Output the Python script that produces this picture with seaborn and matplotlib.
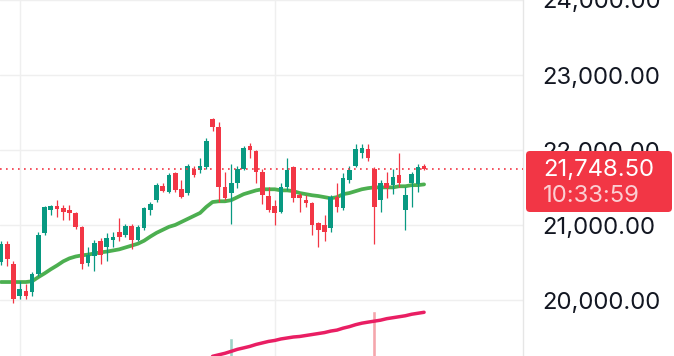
import matplotlib
matplotlib.use("Agg")
import matplotlib.pyplot as plt
from matplotlib.patches import FancyBboxPatch
from matplotlib.ticker import FuncFormatter
from matplotlib.transforms import IdentityTransform
import numpy as np
import pandas as pd
import seaborn as sns

# candles, oldest first
opens = [20505, 20745, 20480, 20060, 20125, 20110, 20350, 20900, 21205, 21255,
         21230, 21205, 21165, 20980, 20495, 20585, 20785, 20715, 20810, 20915,
         20875, 20995, 20810, 20965, 21205, 21335, 21520, 21440, 21690, 21480,
         21430, 21755, 21730, 21770, 22415, 22310, 21505, 21430, 21570, 21755,
         22060, 21995, 21705, 21390, 21255, 21180, 21505, 21770, 21400, 21335,
         21295, 21035, 21005, 20965, 21375, 21230, 21600, 21795, 21965, 22020,
         21755, 21335, 21560, 21535, 21665, 21205, 21570, 21545, 21795]
highs = [20785, 20785, 20520, 20255, 20215, 20375, 20915, 21255, 21270, 21335,
         21270, 21270, 21180, 20995, 20715, 20810, 20835, 20900, 20915, 21100,
         21020, 21020, 21005, 21245, 21310, 21560, 21560, 21690, 21705, 21600,
         21820, 21795, 21900, 22165, 22430, 22375, 21705, 21820, 21785, 22060,
         22100, 22005, 21755, 21505, 21335, 21560, 21890, 21795, 21430, 21400,
         21310, 21045, 21140, 21400, 21570, 21690, 21785, 22085, 22085, 22085,
         21770, 21600, 21705, 21755, 21965, 21505, 21705, 21820, 21820]
lows = [20465, 20455, 19965, 20020, 20020, 20060, 20320, 20875, 21140, 21110,
        21070, 21070, 20955, 20415, 20455, 20390, 20480, 20520, 20705, 20785,
        20850, 20680, 20785, 20940, 21140, 21310, 21440, 21430, 21440, 21360,
        21400, 21640, 21690, 21755, 22255, 21310, 21335, 21020, 21495, 21730,
        21890, 21570, 21285, 21180, 21005, 21165, 21465, 21310, 21180, 21245,
        20875, 20705, 20785, 20915, 21180, 21205, 21570, 21770, 21890, 21860,
        20755, 21180, 21360, 21415, 21505, 20940, 21245, 21440, 21743]
closes = [20745, 20545, 20020, 20150, 20060, 20350, 20875, 21245, 21255, 21215,
          21180, 21165, 20980, 20480, 20610, 20770, 20610, 20825, 20850, 20850,
          20995, 20810, 20980, 21230, 21285, 21535, 21455, 21665, 21465, 21375,
          21795, 21665, 21795, 22125, 22310, 21505, 21360, 21570, 21755, 22035,
          22005, 21705, 21400, 21205, 21165, 21505, 21730, 21360, 21360, 21295,
          21005, 20940, 20915, 21375, 21245, 21625, 21730, 22020, 22035, 21900,
          21245, 21570, 21495, 21640, 21570, 21400, 21680, 21770, 21748.5]

# green moving average, one value per candle
ma_fast = [20245, 20245, 20245, 20245, 20245, 20255, 20310, 20360, 20415, 20465,
           20520, 20560, 20585, 20600, 20610, 20625, 20640, 20650, 20665, 20680,
           20705, 20730, 20755, 20795, 20850, 20900, 20940, 20980, 21005, 21045,
           21085, 21125, 21165, 21245, 21310, 21320, 21320, 21335, 21375, 21415,
           21440, 21465, 21480, 21480, 21480, 21465, 21465, 21455, 21430, 21415,
           21400, 21390, 21375, 21360, 21375, 21415, 21430, 21455, 21480, 21495,
           21505, 21505, 21505, 21505, 21520, 21520, 21535, 21535, 21545]

# pink moving average, visible from candle 34 on
ma_slow_start = 34
ma_slow = [19256, 19276, 19296, 19322, 19349, 19368, 19388, 19414, 19434, 19454,
           19467, 19487, 19500, 19513, 19520, 19533, 19546, 19559, 19572, 19592,
           19605, 19631, 19651, 19677, 19697, 19711, 19724, 19737, 19757, 19770,
           19783, 19796, 19816, 19829, 19842]

# only two volume bars poke up into view
vol_index = [37, 60]
vol_values = [41, 68]

price_ticks = [20000, 21000, 22000, 23000, 24000]
session_lines = [3, 44]
last_price = 21748.50
last_time = "10:33:59"

UP = "#089981"
DOWN = "#F23645"
W, H = 674, 356
FS = 17.2

sns.set_theme(style="white")
plt.rcParams["font.family"] = ["Inter", "DejaVu Sans"]

df = pd.DataFrame({"open": opens, "high": highs, "low": lows, "close": closes})
df["i"] = np.arange(len(df))
colors = np.where(df["close"] >= df["open"], UP, DOWN)

fig = plt.figure(figsize=(W / 100, H / 100), dpi=100)
fig.patch.set_facecolor("white")
ax = fig.add_axes([0, 0, 523 / W, 1])

# volume on its own scale, behind the price axis
vax = ax.twinx()
vax.bar(vol_index, vol_values, width=0.65,
        color=["#9dd3c6" if closes[k] >= opens[k] else "#f5a6ac" for k in vol_index])
vax.set_ylim(23, 23 + H)
vax.axis("off")
vax.set_zorder(ax.get_zorder() - 1)
ax.patch.set_visible(False)

fast = pd.DataFrame({"i": df["i"], "ma": ma_fast})
slow = pd.DataFrame({"i": np.arange(ma_slow_start, ma_slow_start + len(ma_slow)), "ma": ma_slow})
sns.lineplot(data=fast, x="i", y="ma", ax=ax, color="#4CAF50", lw=2.7, zorder=2,
             solid_capstyle="round")
sns.lineplot(data=slow, x="i", y="ma", ax=ax, color="#E91E63", lw=2.5, zorder=2,
             solid_capstyle="round")

ax.vlines(df["i"], df["low"], df["high"], color=colors, lw=0.9, zorder=3)
body_lo = df[["open", "close"]].min(axis=1)
body_h = (df["close"] - df["open"]).abs().clip(lower=15)
ax.bar(df["i"], body_h, bottom=body_lo, width=0.74, color=colors, zorder=4, linewidth=0)

ax.axhline(last_price, color=DOWN, lw=1.2, ls=(0, (1, 2.6)), zorder=5)

ax.set_xlim(-0.16, 83.9)
ax.set_ylim(19260, 23940)
ax.set_xticks(session_lines)
ax.set_xticklabels([])
ax.set_yticks(price_ticks)
ax.yaxis.set_major_formatter(FuncFormatter(lambda v, _: f"{v:,.2f}"))
ax.yaxis.tick_right()
ax.tick_params(axis="y", length=0, pad=14, labelsize=FS, labelcolor="#131722")
ax.tick_params(axis="x", length=0)
ax.grid(True, color="#efefef", lw=1)
ax.set_axisbelow(True)
ax.set_xlabel("")
ax.set_ylabel("")
for side in ["top", "left", "bottom"]:
    ax.spines[side].set_visible(False)
ax.spines["right"].set_color("#e6e6e6")
ax.spines["right"].set_linewidth(1)

# last-price tag
tag = FancyBboxPatch((526, H - 212), 146, 61, boxstyle="round,pad=0,rounding_size=4",
                     facecolor=DOWN, edgecolor="none", transform=IdentityTransform())
fig.add_artist(tag)
fig.text(543 / W, 1 - 167 / H, f"{last_price:,.2f}", color="white", fontsize=FS,
         va="center_baseline", ha="left")
fig.text(543 / W, 1 - 194 / H, last_time, color="#fbcfd3", fontsize=FS,
         va="center_baseline", ha="left")

fig.savefig("out.png", dpi=100)
